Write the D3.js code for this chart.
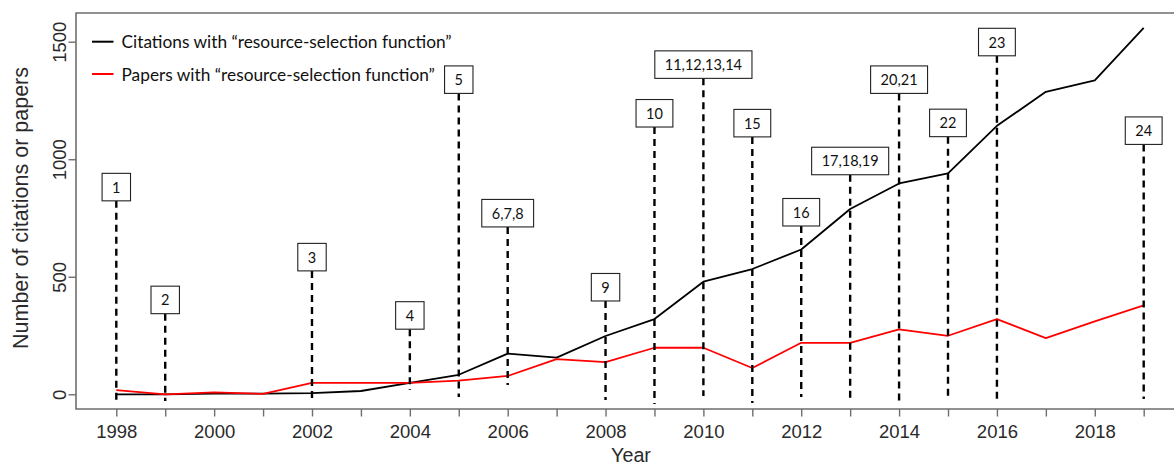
<!DOCTYPE html>
<html>
<head>
<meta charset="utf-8">
<script src="https://cdn.jsdelivr.net/npm/d3@7"></script>
<style>
  html, body { margin: 0; padding: 0; background: #fff; }
  svg { display: block; }
</style>
</head>
<body>
<svg id="chart" width="1174" height="467"></svg>
<script>
// ---- data ----
const years = [1998,1999,2000,2001,2002,2003,2004,2005,2006,2007,2008,2009,2010,2011,2012,2013,2014,2015,2016,2017,2018,2019];
const citations = [0,0,3,3,5,14,49,83,173,156,248,320,479,533,616,788,897,940,1142,1287,1335,1559];
const papers = [18,0,8,2,49,49,49,58,78,150,137,198,198,112,219,219,276,249,320,239,310,378];

const xTicks = [1998,1999,2000,2001,2002,2003,2004,2005,2006,2007,2008,2009,2010,2011,2012,2013,2014,2015,2016,2017,2018,2019];
const xTickLabels = ["1998","","2000","","2002","","2004","","2006","","2008","","2010","","2012","","2014","","2016","","2018",""];
const yTicks = [0,500,1000,1500];

const annoYears  = [1998,1999,2002,2004,2005,2006,2008,2009,2010,2011,2012,2013,2014,2015,2016,2019];
const annoLabels = ["1","2","3","4","5","6,7,8","9","10","11,12,13,14","15","16","17,18,19","20,21","22","23","24"];
const annoTops   = [940,460,642,394,1397,829,514,1254,1461,1212,833,1051,1397,1213,1557,1180];
const annoBottoms= [-28,-28,-28,18,-11,40,-24,-41,-7,-37,-11,-24,-33,-24,-37,-20];

const seriesNames = ["Citations with \u201cresource-selection function\u201d", "Papers with \u201cresource-selection function\u201d"];
const seriesColors = ["#000000", "#ff0000"];

// ---- chart ----
const svg = d3.select("#chart");
const x = d3.scaleLinear().domain([1998, 2019]).range([116.3, 1143.7]);
const y = d3.scaleLinear().domain([0, 1500]).range([394.3, 41.7]);

const frameLeft = 76, frameTop = 13, frameBottom = 409, frameRight = 1190;
const axisColor = "#6e6e6e";

// frame (R-style box)
svg.append("path")
  .attr("d", `M${frameRight},${frameTop}H${frameLeft}V${frameBottom}H${frameRight}`)
  .attr("fill", "none").attr("stroke", axisColor).attr("stroke-width", 1.6);

// y axis ticks + labels
const yAxis = d3.axisLeft(y).tickValues(yTicks).tickSize(7.5).tickPadding(0).tickFormat(d3.format("d"));
const gy = svg.append("g").attr("transform", `translate(${frameLeft},0)`).call(yAxis);
gy.select(".domain").remove();
gy.selectAll(".tick line").attr("stroke", axisColor).attr("stroke-width", 1.4);
gy.selectAll(".tick text")
  .attr("x", 0).attr("dy", 0)
  .attr("transform", "translate(-17,0) rotate(-90)")
  .attr("text-anchor", "middle")
  .attr("dominant-baseline", "central")
  .style("font-family", "'Liberation Sans', Arial, sans-serif")
  .style("font-size", "18.5px")
  .attr("fill", "#2a2a2a");

// x axis ticks + labels
const xAxis = d3.axisBottom(x).tickValues(xTicks).tickSize(7.5).tickPadding(8)
  .tickFormat((d, i) => xTickLabels[i]);
const gx = svg.append("g").attr("transform", `translate(0,${frameBottom})`).call(xAxis);
gx.select(".domain").remove();
gx.selectAll(".tick line").attr("stroke", axisColor).attr("stroke-width", 1.4);
gx.selectAll(".tick text")
  .style("font-family", "'Liberation Sans', Arial, sans-serif")
  .style("font-size", "18.5px")
  .attr("fill", "#2a2a2a");

// axis titles
svg.append("text")
  .attr("x", 631).attr("y", 462)
  .attr("text-anchor", "middle")
  .style("font-family", "'Liberation Sans', Arial, sans-serif")
  .style("font-size", "19.7px").attr("fill", "#2a2a2a")
  .text("Year");
svg.append("text")
  .attr("transform", "translate(28,208) rotate(-90)")
  .attr("text-anchor", "middle")
  .style("font-family", "'Liberation Sans', Arial, sans-serif")
  .style("font-size", "21.5px").attr("fill", "#2a2a2a")
  .text("Number of citations or papers");

// data lines
const line = d3.line().x((d, i) => x(years[i])).y(d => y(d));
[citations, papers].forEach((s, k) => {
  svg.append("path").datum(s)
    .attr("d", line)
    .attr("fill", "none")
    .attr("stroke", seriesColors[k])
    .attr("stroke-width", 1.8)
    .attr("stroke-linejoin", "round");
});

// annotations
const labelFont = "Lato, 'Open Sans', sans-serif";
const boxH = 27.5;
annoYears.forEach((yr, i) => {
  const cx = x(yr);
  const top = y(annoTops[i]);
  svg.append("line")
    .attr("x1", cx).attr("x2", cx)
    .attr("y1", top + boxH).attr("y2", y(annoBottoms[i]))
    .attr("stroke", "#000").attr("stroke-width", 2.4)
    .attr("stroke-dasharray", "7,5");
  const g = svg.append("g");
  const rect = g.append("rect");
  const t = g.append("text")
    .attr("x", cx).attr("y", top + boxH / 2)
    .attr("text-anchor", "middle").attr("dominant-baseline", "central")
    .style("font-family", labelFont).style("font-size", "14.5px").attr("fill", "#111")
    .text(annoLabels[i]);
  const w = Math.max(23, t.node().getComputedTextLength() + 20);
  rect.attr("x", cx - w / 2).attr("y", top).attr("width", w).attr("height", boxH)
    .attr("fill", "#fff").attr("stroke", "#222").attr("stroke-width", 1.1);
});

// legend
const legendY = [41.7, 74];
seriesNames.forEach((name, k) => {
  svg.append("line")
    .attr("x1", 92).attr("x2", 113.5)
    .attr("y1", legendY[k]).attr("y2", legendY[k])
    .attr("stroke", seriesColors[k]).attr("stroke-width", 2);
  svg.append("text")
    .attr("x", 121.5).attr("y", legendY[k])
    .attr("dominant-baseline", "central")
    .style("font-family", labelFont).style("font-size", "17.3px").attr("fill", "#111")
    .text(name);
});
</script>
</body>
</html>
